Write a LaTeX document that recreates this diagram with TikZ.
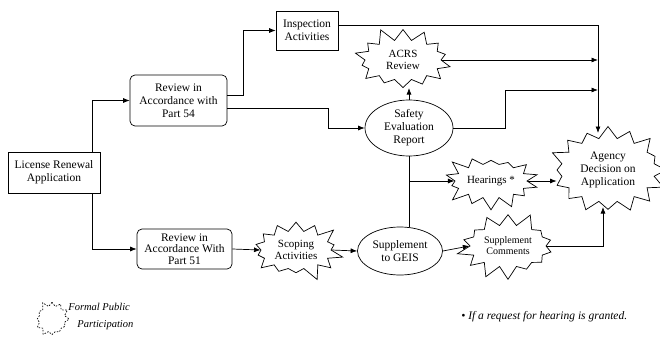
\documentclass[tikz,border=0pt]{standalone}
\usepackage{fontspec}
\setmainfont{Liberation Serif}
\usetikzlibrary{shapes.symbols,shapes.geometric,arrows.meta}
\begin{document}
\begin{tikzpicture}[x=1pt,y=-1pt,
  line width=0.7pt,
  arr/.style={-{Latex[length=6.5pt,width=5pt]}},
  boxnode/.style={draw,rectangle,align=center,inner sep=0pt,font=\fontsize{11.5}{13}\selectfont},
  rbox/.style={boxnode,rounded corners=5pt},
  ovalnode/.style={draw,ellipse,align=center,inner sep=0pt,font=\fontsize{11.5}{13}\selectfont},
  burst/.style={draw,starburst,starburst points=14,starburst point height=14pt,align=center,inner sep=0pt,font=\fontsize{11}{12.5}\selectfont},
  legtext/.style={anchor=west,inner sep=0pt,font=\itshape\fontsize{10.5}{12}\selectfont},
]
\useasboundingbox (0,0) rectangle (660,340);

% nodes
\node[boxnode,minimum width=92pt,minimum height=41pt] (lic) at (54,172.5) {License Renewal\\Application};
\node[rbox,minimum width=97pt,minimum height=51pt] (r54) at (178.5,100.5) {Review in\\Accordance with\\Part 54};
\node[boxnode,minimum width=62pt,minimum height=39pt] (insp) at (307,30.5) {Inspection\\Activities};
\node[burst,minimum width=104pt,minimum height=68pt,random starburst=11] (acrs) at (403,60) {ACRS\\Review};
\node[ovalnode,minimum width=88pt,minimum height=56pt] (ser) at (409,128) {Safety\\Evaluation\\Report};
\node[burst,minimum width=100pt,minimum height=62pt,random starburst=23] (hear) at (491,181) {Hearings *};
\node[burst,minimum width=122pt,minimum height=92pt,starburst points=16,random starburst=37,font=\fontsize{11.5}{13}\selectfont] (agency) at (608,170) {Agency\\Decision on\\Application};
\node[rbox,minimum width=95pt,minimum height=40pt,font=\fontsize{11.5}{11.5}\selectfont] (r51) at (184.5,249) {Review in\\Accordance With\\Part 51};
\node[burst,minimum width=98pt,minimum height=66pt,random starburst=51] (scop) at (296,250) {Scoping\\Activities};
\node[ovalnode,minimum width=85pt,minimum height=48pt] (geis) at (400,251) {Supplement\\to GEIS};
\node[burst,minimum width=104pt,minimum height=70pt,random starburst=67,font=\fontsize{10}{11}\selectfont] (supc) at (508,246) {Supplement\\Comments};

% legend and footnote
\node[draw,dash pattern=on 1.5pt off 1.5pt,starburst,starburst points=12,starburst point height=6pt,minimum width=38pt,minimum height=38pt,random starburst=5] (leg) at (52,319) {};
\node[legtext] (legt1) at (68,307) {Formal Public};
\node[legtext] (legt2) at (77,325) {Participation};
\node[legtext,font=\itshape\fontsize{11.5}{13}\selectfont] (fn) at (461,317) {• If a request for hearing is granted.};

% junction coordinates
\coordinate (agtop) at (598,133);
\coordinate (agbot) at (603,207);
\coordinate (jacrs) at (598,60);
\coordinate (jser) at (598,90);

% connectors
\draw[arr] ([xshift=38pt]lic.north) |- (r54.west);
\draw[arr] ([xshift=38pt]lic.south) |- (r51.west);
\draw[arr] ([yshift=5.5pt]r54.east) -- ++(16,0) |- (insp.west);
\draw[arr] ([yshift=-7.5pt]r54.east) -- ++(101,0) |- (ser.west);
\draw[arr] ([yshift=5pt]insp.east) -| (agtop);
\draw[arr] (acrs.east) -- (acrs.east -| jacrs);
\draw[arr] (ser.east) -- ++(52,0) |- (jser);
\draw[arr] (ser.north) -- (ser.north |- acrs.south);
\draw (ser.south) -- (ser.south |- geis.north);
\draw[arr] (ser.south |- hear.west) -- (hear.west);
\draw[arr] (hear.east) -- (hear.east -| agency.west);
\draw[arr] (r51.east) -- (scop.west);
\draw[arr] (scop.east) -- (geis.west);
\draw[arr] (geis.east) -- (supc.west);
\draw[arr] (supc.east) -| (agbot);
\end{tikzpicture}
\end{document}
